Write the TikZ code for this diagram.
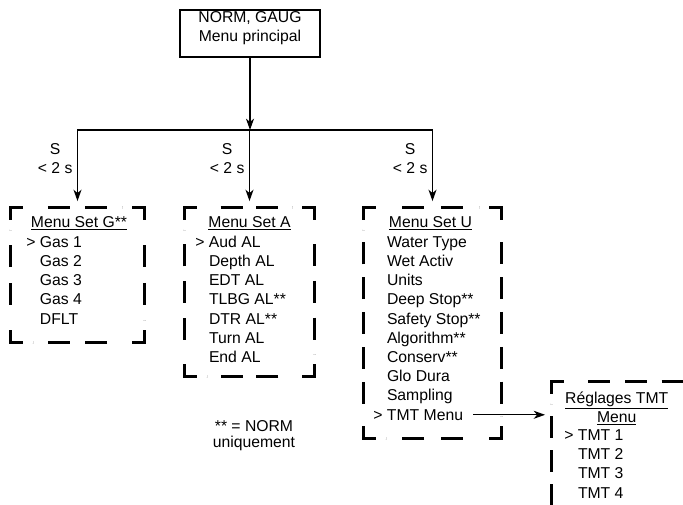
\documentclass[tikz,border=0pt]{standalone}
\usepackage{fontspec}
\setmainfont{Liberation Sans}
\usetikzlibrary{arrows.meta, positioning, calc, fit, decorations}

% dashed frame with solid corners
\newcommand{\menuframe}[1]{%
  \draw[dashframe] ($(#1.north west)+(0,12)$) -- (#1.north west) -- ++(12,0);
  \draw[dashframe] ($(#1.north east)+(-12,0)$) -- (#1.north east) -- ++(0,12);
  \draw[dashframe] ($(#1.south east)+(0,-12)$) -- (#1.south east) -- ++(-12,0);
  \draw[dashframe] ($(#1.south west)+(12,0)$) -- (#1.south west) -- ++(0,-12);
  \draw[dashframe, dashside] ($(#1.north west)+(22,0)$) -- ($(#1.north east)+(-22,0)$);
  \draw[dashframe, dashside] ($(#1.north east)+(0,22)$) -- ($(#1.south east)+(0,-22)$);
  \draw[dashframe, dashside] ($(#1.south east)+(-22,0)$) -- ($(#1.south west)+(22,0)$);
  \draw[dashframe, dashside] ($(#1.south west)+(0,-22)$) -- ($(#1.north west)+(0,22)$);
}

\begin{document}
\begin{tikzpicture}[x=0.75pt, y=-0.75pt,
    every node/.style={font=\fontsize{11.8}{14.4}\selectfont},
    mainbox/.style={rectangle, draw, line width=1.9pt, inner sep=0pt, align=center},
    menubox/.style={rectangle, inner sep=0pt},
    dashframe/.style={line width=2pt},
    dashside/.style={dash pattern=on 16.5pt off 6.75pt, dash expand off},
    title/.style={inner sep=0pt, anchor=base},
    item/.style={inner sep=0pt, anchor=base west},
    cond/.style={align=center},
    arrow/.style={-{Stealth[length=8.5pt, width=6pt, inset=2.5pt]}, line width=1pt, shorten >=5pt},
    line/.style={line width=1pt}
]
\useasboundingbox (0,0) rectangle (683,505);
\clip (0,0) rectangle (683,505);

% Main menu
\node (MAIN) [mainbox, fit={(180,10) (320,57)}] {NORM, GAUG\\Menu principal};
\coordinate (SPLIT) at (250,130);

% Menu boxes
\node (SETG) [menubox, fit={(11,208) (144,342)}] {};
\node (SETA) [menubox, fit={(185,208) (314,376)}] {};
\node (SETU) [menubox, fit={(364,208) (501,438)}] {};
\node (TMT)  [menubox, fit={(552,382) (720,540)}] {};
\menuframe{SETG}
\menuframe{SETA}
\menuframe{SETU}
\menuframe{TMT}

% Titles
\node (SETGt) [title] at ($(SETG.north)+(1.5,20)$) {\underline{Menu Set G**}};
\node (SETAt) [title] at ($(SETA.north)+(0,20)$) {\underline{Menu Set A}};
\node (SETUt) [title] at ($(SETU.north)+(-2,20)$) {\underline{Menu Set U}};
\node (TMTt1) [title] at ($(TMT.north west)+(65,21.6)$) {\underline{Réglages TMT}};
\node (TMTt2) [title] at ($(TMT.north west)+(65,40.8)$) {\underline{Menu}};

% Items
\foreach \txt [count=\i from 0] in {\llap{> }Gas 1, Gas 2, Gas 3, Gas 4, DFLT}
  \node (G\i) [item] at ($(SETG.north west)+(29,39.6+19.2*\i)$) {\txt};
\foreach \txt [count=\i from 0] in {\llap{> }Aud AL, Depth AL, EDT AL, TLBG AL**, DTR AL**, Turn AL, End AL}
  \node (A\i) [item] at ($(SETA.north west)+(24,39.6+19.2*\i)$) {\txt};
\foreach \txt [count=\i from 0] in {Water Type, Wet Activ, Units, Deep Stop**, Safety Stop**, Algorithm**, Conserv**, Glo Dura, Sampling, \llap{> }TMT Menu}
  \node (U\i) [item] at ($(SETU.north west)+(23,39.6+19.2*\i)$) {\txt};
\foreach \txt [count=\i from 0] in {\llap{> }TMT 1, TMT 2, TMT 3, TMT 4}
  \node (T\i) [item] at ($(TMT.north west)+(26,58.6+19.3*\i)$) {\txt};

% Note
\node (NOTE) [align=center, font=\fontsize{11.8}{12}\selectfont] at (254,436) {** = NORM\\uniquement};

% Connectors
\draw [line, -{Stealth[length=8.5pt, width=6pt, inset=2.5pt]}] (MAIN.south) -- (SPLIT);
\draw [line, line cap=rect] (SETG.north |- SPLIT) -- (SETU.north |- SPLIT);
\draw [arrow] (SETG.north |- SPLIT) -- (SETG.north) node[cond, pos=0.365, left] {S\\< 2 s};
\draw [arrow] (SETA.north |- SPLIT) -- (SETA.north) node[cond, pos=0.365, left] {S\\< 2 s};
\draw [arrow] (SETU.north |- SPLIT) -- (SETU.north) node[cond, pos=0.365, left] {S\\< 2 s};
\draw [arrow, shorten <=7.5pt] (U9.east) -- (U9.east -| TMT.west);

\end{tikzpicture}
\end{document}
